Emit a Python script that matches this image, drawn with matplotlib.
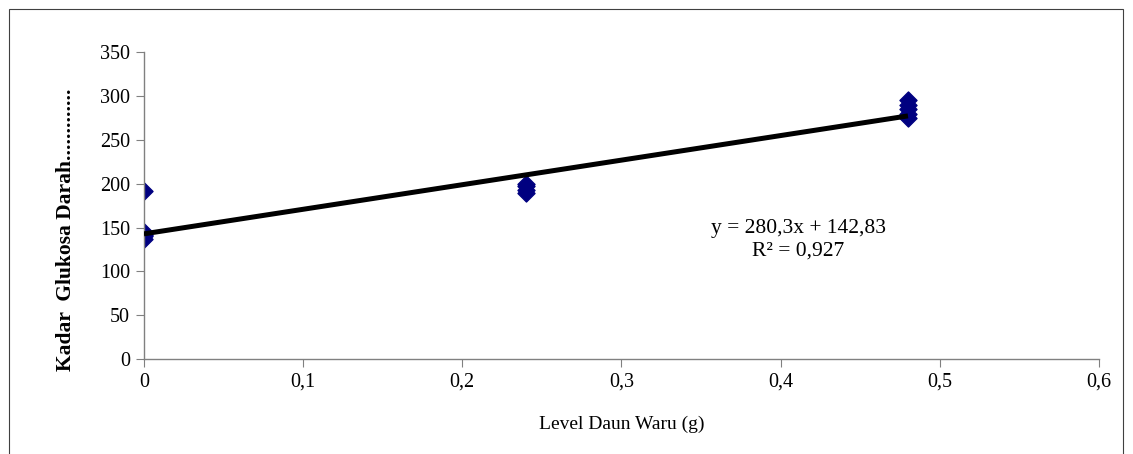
import numpy as np
import matplotlib.pyplot as plt
from matplotlib.patches import Rectangle

plt.rcParams['font.family'] = ['Liberation Serif', 'DejaVu Serif']

# data
level = [0, 0, 0, 0, 0,
         0.24, 0.24, 0.24, 0.24,
         0.48, 0.48, 0.48, 0.48, 0.48]
glukosa = [192, 137, 140, 142, 145,
           190, 193, 197, 200,
           275, 280, 285, 290, 295]
slope = 280.3
intercept = 142.83
r2 = "0,927"

fig = plt.figure(figsize=(11.33, 4.54), dpi=100)
ax = fig.add_axes([0.127, 0.209, 0.843, 0.676])

# trend line over the range of the data
xl = np.array([min(level), max(level)])
ax.plot(xl, slope * xl + intercept, color='black', lw=3.6, solid_capstyle='butt', zorder=3)
ax.scatter(level, glukosa, marker='D', s=75, color='#000080', zorder=2)

ax.set_xlim(0, 0.6)
ax.set_ylim(0, 350)
ax.set_xticks(np.arange(0, 0.61, 0.1))
ax.set_xticklabels(['0', '0,1', '0,2', '0,3', '0,4', '0,5', '0,6'])
ax.set_yticks(range(0, 351, 50))
for s in ['top', 'right']:
    ax.spines[s].set_visible(False)
for s in ['left', 'bottom']:
    ax.spines[s].set_color('#808080')
    ax.spines[s].set_linewidth(1)
ax.tick_params(axis='both', direction='out', length=6, color='#808080', labelsize=14.5, pad=4)
ax.set_xlabel('Level Daun Waru (g)', fontsize=14, labelpad=17)

fig.text(0.058, 0.493, 'Kadar  Glukosa Darah.............', rotation=90, fontsize=15.5,
         fontweight='bold', ha='center', va='center')

ax.text(0.411, 136, 'y = 280,3x + 142,83\nR² = ' + r2, fontsize=15.5, ha='center', va='center',
        linespacing=1.2)

# outer chart frame
fig.patches.append(Rectangle((9 / 1133, -0.1), 1114 / 1133, 1.1 - 9 / 454, transform=fig.transFigure,
                             fill=False, edgecolor='#404040', lw=0.8))

fig.savefig('out.png', dpi=100)
